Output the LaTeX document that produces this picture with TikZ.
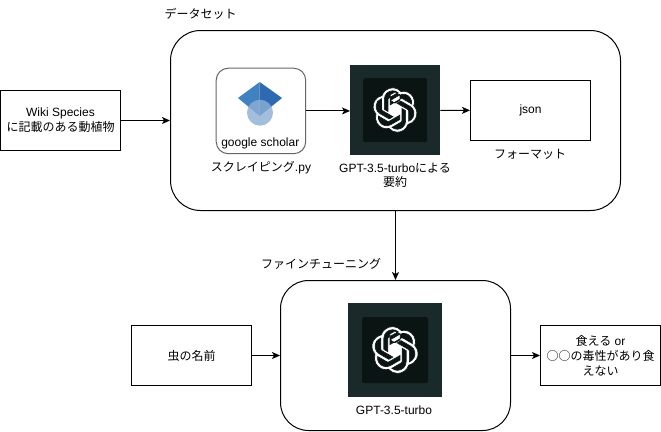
\documentclass[tikz,border=0pt]{standalone}
\usepackage{fontspec}
\setmainfont{Liberation Sans}
\newfontfamily\cjk{Noto Sans CJK JP}
\usetikzlibrary{arrows.meta,svg.path}
\definecolor{logoouter}{HTML}{1A2A2A}
\definecolor{logoinner}{HTML}{0A1513}
\tikzset{
  x=1pt,y=-1pt,
  txt/.style={font=\fontsize{12}{15}\selectfont,align=center,text=black,inner sep=0pt},
  rbox/.style={draw=black,line width=1pt,fill=white,sharp corners,txt},
  bigbox/.style={draw=black,line width=1pt,fill=white,rounded corners=#1},
  conn/.style={draw=black,line width=1pt,-{Stealth[length=8pt,width=7pt,inset=2pt]}},
  logoo/.style={fill=logoouter,draw=none},
  logoi/.style={fill=logoinner,draw=none,rounded corners=2pt}
}
\newcommand{\oailogo}[3]{%
  \begin{scope}[shift={(#1,#2)},xscale=#3,yscale=-#3,xshift=-12pt,yshift=-12pt]
    \filldraw[fill=white,draw=logoinner,line width=0.6pt,even odd rule] svg {M22.2819 9.8211 a5.9847 5.9847 0 0 0 -0.5157 -4.9108 6.0462 6.0462 0 0 0 -6.5098 -2.9 A6.0651 6.0651 0 0 0 4.9807 4.1818 a5.9847 5.9847 0 0 0 -3.9977 2.9 6.0462 6.0462 0 0 0 0.7427 7.0966 5.98 5.98 0 0 0 0.511 4.9107 6.051 6.051 0 0 0 6.5146 2.9001 A5.9847 5.9847 0 0 0 13.2599 24 a6.0557 6.0557 0 0 0 5.7718 -4.2058 5.9894 5.9894 0 0 0 3.9977 -2.9001 6.0557 6.0557 0 0 0 -0.7475 -7.0729 z m-9.022 12.6081 a4.4755 4.4755 0 0 1 -2.8764 -1.0408 l0.1419 -0.0804 4.7783 -2.7582 a0.7948 0.7948 0 0 0 0.3927 -0.6813 v-6.7369 l2.02 1.1686 a0.071 0.071 0 0 1 0.038 0.052 v5.5826 a4.504 4.504 0 0 1 -4.4945 4.4944 z m-9.6607 -4.1254 a4.4708 4.4708 0 0 1 -0.5346 -3.0137 l0.142 0.0852 4.783 2.7582 a0.7712 0.7712 0 0 0 0.7806 0 l5.8428 -3.3685 v2.3324 a0.0804 0.0804 0 0 1 -0.0332 0.0615 L9.74 19.9502 a4.4992 4.4992 0 0 1 -6.1408 -1.6464 z M2.3408 7.8956 a4.485 4.485 0 0 1 2.3655 -1.9728 V11.6 a0.7664 0.7664 0 0 0 0.3879 0.6765 l5.8144 3.3543 -2.0201 1.1685 a0.0757 0.0757 0 0 1 -0.071 0 l-4.8303 -2.7865 A4.504 4.504 0 0 1 2.3408 7.872 z m16.5963 3.8558 L13.1038 8.364 15.1192 7.2 a0.0757 0.0757 0 0 1 0.071 0 l4.8303 2.7913 a4.4944 4.4944 0 0 1 -0.6765 8.1042 v-5.6772 a0.79 0.79 0 0 0 -0.407 -0.667 z m2.0107 -3.0231 l-0.142 -0.0852 -4.7735 -2.7818 a0.7759 0.7759 0 0 0 -0.7854 0 L9.409 9.2297 V6.8974 a0.0662 0.0662 0 0 1 0.0284 -0.0615 l4.8303 -2.7866 a4.4992 4.4992 0 0 1 6.6802 4.66 z M8.3065 12.863 l-2.02 -1.1638 a0.0804 0.0804 0 0 1 -0.038 -0.0567 V6.0742 a4.4992 4.4992 0 0 1 7.3757 -3.4537 l-0.142 0.0805 L8.704 5.459 a0.7948 0.7948 0 0 0 -0.3927 0.6813 z m1.0976 -2.3654 l2.602 -1.4998 2.6069 1.4998 v2.9994 l-2.5974 1.4997 -2.6067 -1.4997 Z};
  \end{scope}}
\begin{document}
\begin{tikzpicture}
\useasboundingbox (0,0) rectangle (661,431);
\node[bigbox=30pt,minimum width=450pt,minimum height=180pt,anchor=north west] (data) at (170,30) {};
\node[bigbox=28pt,minimum width=230pt,minimum height=150pt,anchor=north west] (ft) at (280,280) {};
\node[rbox,minimum width=120pt,minimum height=60pt,anchor=north west] (wiki) at (0,90) {Wiki Species\\{\cjk に記載のある動植物}};
\node[rbox,minimum width=120pt,minimum height=60pt,anchor=north west] (json) at (470,80) {json};
\node[rbox,minimum width=120pt,minimum height=60pt,anchor=north west] (bug) at (131,325) {\cjk 虫の名前};
\node[rbox,minimum width=120pt,minimum height=60pt,anchor=north west] (res) at (540,325) {{\cjk 食える} or\\{\cjk ○○の毒性があり食}\\{\cjk えない}};
\node[draw=black!60,line width=1pt,fill=white,rounded corners=12pt,minimum width=89.5pt,minimum height=85.5pt,anchor=north west] (gs) at (215.7,67.7) {};
\fill[color={rgb,255:red,63;green,130;blue,191}] (259.7,82) -- (238,98) -- (259.7,116) -- cycle;
\fill[color={rgb,255:red,46;green,106;blue,177}] (259.7,82) -- (282,98) -- (259.7,116) -- cycle;
\fill[color={rgb,255:red,142;green,175;blue,213},fill opacity=0.81] (260,112.7) circle (13pt);
\node[txt,anchor=base] (gsl) at (260.3,146) {google scholar};
\node[logoo,minimum width=90pt,minimum height=90pt,anchor=north west] (l1) at (350,65) {};
\node[logoi,minimum width=64pt,minimum height=64pt] (l1i) at (l1.center) {};
\oailogo{395}{110}{1.85}
\node[logoo,minimum width=94pt,minimum height=94pt,anchor=north west] (l2) at (348,303) {};
\node[logoi,minimum width=66pt,minimum height=66pt] (l2i) at (l2.center) {};
\oailogo{395}{350}{1.95}
\node[txt,anchor=base] (t1) at (200.5,18.5) {\cjk データセット};
\node[txt,anchor=base] (t2) at (261,171.5) {{\cjk スクレイピング}.py};
\node[txt,anchor=base] (t3) at (395,172) {GPT-3.5-turbo{\cjk による}};
\node[txt,anchor=base] (t4) at (395,186) {\cjk 要約};
\node[txt,anchor=base] (t5) at (530,158) {\cjk フォーマット};
\node[txt,anchor=base] (t6) at (321,268) {\cjk ファインチューニング};
\node[txt,anchor=base] (t7) at (394,414) {GPT-3.5-turbo};
\draw[conn] (wiki) -- (data.west |- wiki.east);
\draw[conn] (gs.east) -- (l1.west |- gs.east);
\draw[conn] (l1) -- (json);
\draw[conn] (data.south -| ft.north) -- (ft.north);
\draw[conn] (bug) -- (ft.west |- bug.east);
\draw[conn] (ft.east |- res.west) -- (res.west);
\end{tikzpicture}
\end{document}
